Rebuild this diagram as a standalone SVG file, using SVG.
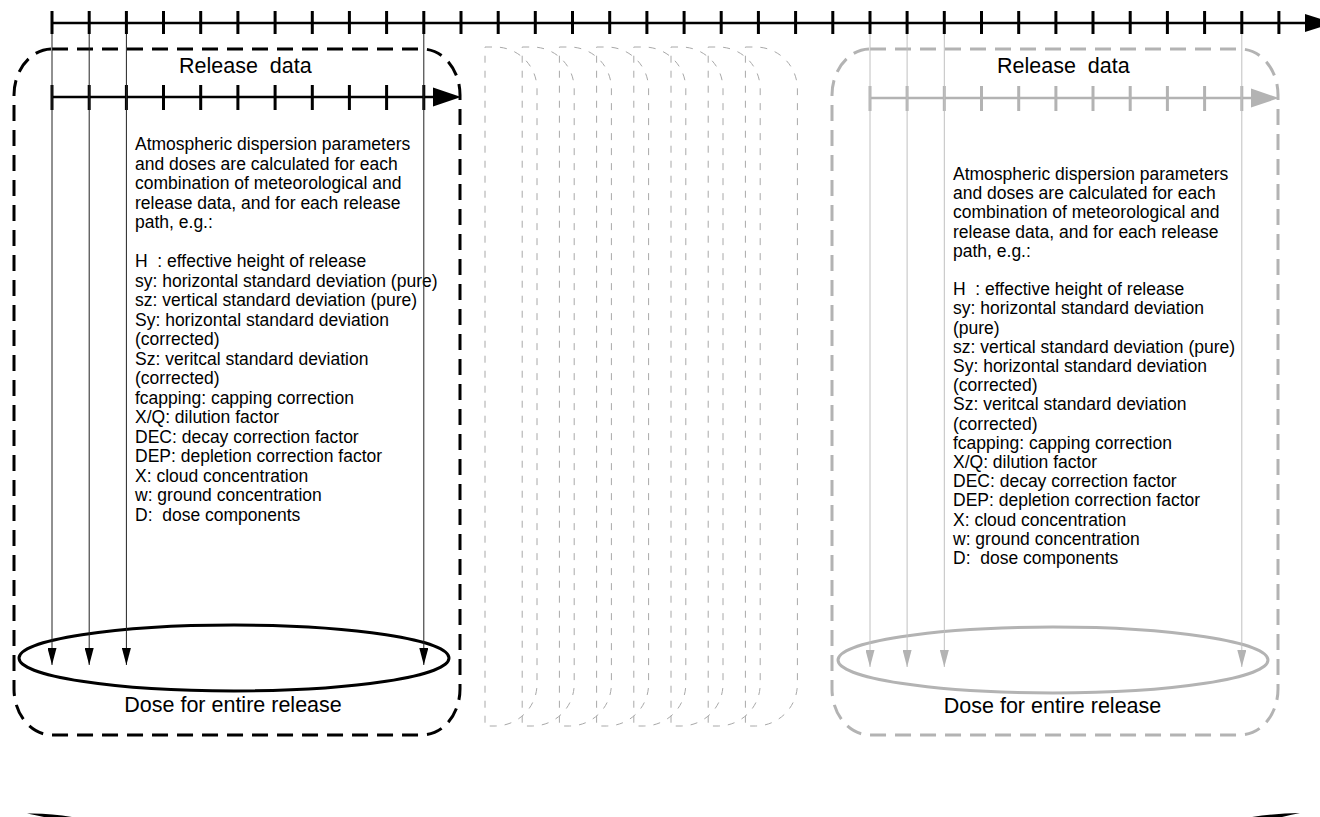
<svg xmlns="http://www.w3.org/2000/svg" width="1320" height="817" viewBox="0 0 1320 817">
<style>
text{font-family:"Liberation Sans",Arial,sans-serif;fill:#000;white-space:pre}
.body{font-size:17.5px}
.title{font-size:21.5px}
.bigbox{fill:none;stroke-width:3;stroke-dasharray:16,9}
.blk{stroke:#000}
.gry{stroke:#b3b3b3}
.midbox{fill:none;stroke:#a8a8a8;stroke-width:1;stroke-dasharray:7,8}
.axis{fill:none;stroke-width:2.5}
.ticks{fill:none;stroke-width:3}
.vline{fill:none;stroke-width:1}
.ell{fill:none;stroke-width:3}
</style>
<defs>
<marker id="arrB" viewBox="0 0 17 9" refX="17" refY="4.5" markerWidth="17" markerHeight="9" markerUnits="userSpaceOnUse" orient="auto"><path d="M0,0 L17,4.5 L0,9 Z" fill="#000"/></marker>
<marker id="arrG" viewBox="0 0 17 9" refX="17" refY="4.5" markerWidth="17" markerHeight="9" markerUnits="userSpaceOnUse" orient="auto"><path d="M0,0 L17,4.5 L0,9 Z" fill="#b3b3b3"/></marker>
<path id="mb" d="M0,47 H10 A42,42 0 0 1 52,89 V684 A42,42 0 0 1 10,726 H0 Z"/>
</defs>

<g id="timeline">
<path class="axis blk" d="M52,23 H1306"/>
<polygon points="1305,14 1333,23 1305,32" fill="#000"/>
<path class="ticks blk" d="M52,11V34 M89.2,11V34 M126.4,11V34 M163.5,11V34 M200.7,11V34 M237.9,11V34 M275.1,11V34 M312.3,11V34 M349.4,11V34 M386.6,11V34 M423.8,11V34 M461,11V34 M498.2,11V34 M535.3,11V34 M572.5,11V34 M609.7,11V34 M646.9,11V34 M684.1,11V34 M721.2,11V34 M758.4,11V34 M795.6,11V34 M832.8,11V34 M870,11V34 M907.1,11V34 M944.3,11V34 M981.5,11V34 M1018.7,11V34 M1055.9,11V34 M1093,11V34 M1130.2,11V34 M1167.4,11V34 M1204.6,11V34 M1241.8,11V34 M1278.9,11V34"/>
</g>

<g id="box-first">
<rect class="bigbox blk" x="14" y="49" width="446" height="686" rx="38" ry="46"/>
<text class="title" x="179" y="73">Release  data</text>
<path class="axis blk" d="M52,97 H434"/>
<polygon points="433,87.5 461,97 433,106.5" fill="#000"/>
<path class="ticks blk" d="M52,85V110 M89.2,85V110 M126.4,85V110 M163.5,85V110 M200.7,85V110 M237.9,85V110 M275.1,85V110 M312.3,85V110 M349.4,85V110 M386.6,85V110 M423.8,85V110"/>
<text class="body">
<tspan x="135" y="150">Atmospheric dispersion parameters</tspan>
<tspan x="135" y="169.5">and doses are calculated for each</tspan>
<tspan x="135" y="189">combination of meteorological and</tspan>
<tspan x="135" y="208.5">release data, and for each release</tspan>
<tspan x="135" y="228">path, e.g.:</tspan>
<tspan x="135" y="267">H  : effective height of release</tspan>
<tspan x="135" y="286.5">sy: horizontal standard deviation (pure)</tspan>
<tspan x="135" y="306">sz: vertical standard deviation (pure)</tspan>
<tspan x="135" y="325.5">Sy: horizontal standard deviation</tspan>
<tspan x="135" y="345">(corrected)</tspan>
<tspan x="135" y="364.5">Sz: veritcal standard deviation</tspan>
<tspan x="135" y="384">(corrected)</tspan>
<tspan x="135" y="403.5">fcapping: capping correction</tspan>
<tspan x="135" y="423">X/Q: dilution factor</tspan>
<tspan x="135" y="442.5">DEC: decay correction factor</tspan>
<tspan x="135" y="462">DEP: depletion correction factor</tspan>
<tspan x="135" y="481.5">X: cloud concentration</tspan>
<tspan x="135" y="501">w: ground concentration</tspan>
<tspan x="135" y="520.5">D:  dose components</tspan>
</text>
<ellipse class="ell blk" cx="234" cy="658" rx="215" ry="33"/>
<text class="title" x="233" y="712" text-anchor="middle">Dose for entire release</text>
</g>

<g id="boxes-middle">
<use href="#mb" class="midbox" x="485"/>
<use href="#mb" class="midbox" x="522.2"/>
<use href="#mb" class="midbox" x="559.4"/>
<use href="#mb" class="midbox" x="596.6"/>
<use href="#mb" class="midbox" x="633.8"/>
<use href="#mb" class="midbox" x="671"/>
<use href="#mb" class="midbox" x="708.2"/>
<use href="#mb" class="midbox" x="745.4"/>
</g>

<g id="box-last">
<rect class="bigbox gry" x="832" y="49" width="446" height="686" rx="38" ry="46"/>
<text class="title" x="997" y="73">Release  data</text>
<path class="axis gry" d="M870,98 H1252"/>
<polygon points="1251,88.5 1279,98 1251,107.5" fill="#b3b3b3"/>
<path class="ticks gry" d="M870,86V111 M907.1,86V111 M944.3,86V111 M981.5,86V111 M1018.7,86V111 M1055.9,86V111 M1093,86V111 M1130.2,86V111 M1167.4,86V111 M1204.6,86V111 M1241.8,86V111"/>
<text class="body">
<tspan x="953" y="180">Atmospheric dispersion parameters</tspan>
<tspan x="953" y="199.2">and doses are calculated for each</tspan>
<tspan x="953" y="218.4">combination of meteorological and</tspan>
<tspan x="953" y="237.6">release data, and for each release</tspan>
<tspan x="953" y="256.8">path, e.g.:</tspan>
<tspan x="953" y="295.2">H  : effective height of release</tspan>
<tspan x="953" y="314.4">sy: horizontal standard deviation</tspan>
<tspan x="953" y="333.6">(pure)</tspan>
<tspan x="953" y="352.8">sz: vertical standard deviation (pure)</tspan>
<tspan x="953" y="372">Sy: horizontal standard deviation</tspan>
<tspan x="953" y="391.2">(corrected)</tspan>
<tspan x="953" y="410.4">Sz: veritcal standard deviation</tspan>
<tspan x="953" y="429.6">(corrected)</tspan>
<tspan x="953" y="448.8">fcapping: capping correction</tspan>
<tspan x="953" y="468">X/Q: dilution factor</tspan>
<tspan x="953" y="487.2">DEC: decay correction factor</tspan>
<tspan x="953" y="506.4">DEP: depletion correction factor</tspan>
<tspan x="953" y="525.6">X: cloud concentration</tspan>
<tspan x="953" y="544.8">w: ground concentration</tspan>
<tspan x="953" y="564">D:  dose components</tspan>
</text>
<ellipse class="ell gry" cx="1053" cy="660" rx="215" ry="33"/>
<text class="title" x="1052.5" y="713" text-anchor="middle">Dose for entire release</text>
</g>

<g id="connectors">
<path class="vline" stroke="#222" marker-end="url(#arrB)" d="M52,34 V665"/>
<path class="vline" stroke="#222" marker-end="url(#arrB)" d="M89.2,34 V665"/>
<path class="vline" stroke="#222" marker-end="url(#arrB)" d="M126.4,34 V665"/>
<path class="vline" stroke="#222" marker-end="url(#arrB)" d="M423.8,34 V665"/>
<path class="vline" stroke="#c0c0c0" marker-end="url(#arrG)" d="M870,34 V667"/>
<path class="vline" stroke="#c0c0c0" marker-end="url(#arrG)" d="M907.1,34 V667"/>
<path class="vline" stroke="#c0c0c0" marker-end="url(#arrG)" d="M944.3,34 V667"/>
<path class="vline" stroke="#c0c0c0" marker-end="url(#arrG)" d="M1241.8,34 V667"/>
</g>

<g id="bottom-brace">
<path d="M27,813.5 Q50,813 72,817 L44,817 Q36,815 27,813.5 Z" fill="#000"/>
<path d="M1300,813 Q1275,813.5 1252,817 L1282,817 Q1290,815 1300,813 Z" fill="#000"/>
</g>
</svg>
